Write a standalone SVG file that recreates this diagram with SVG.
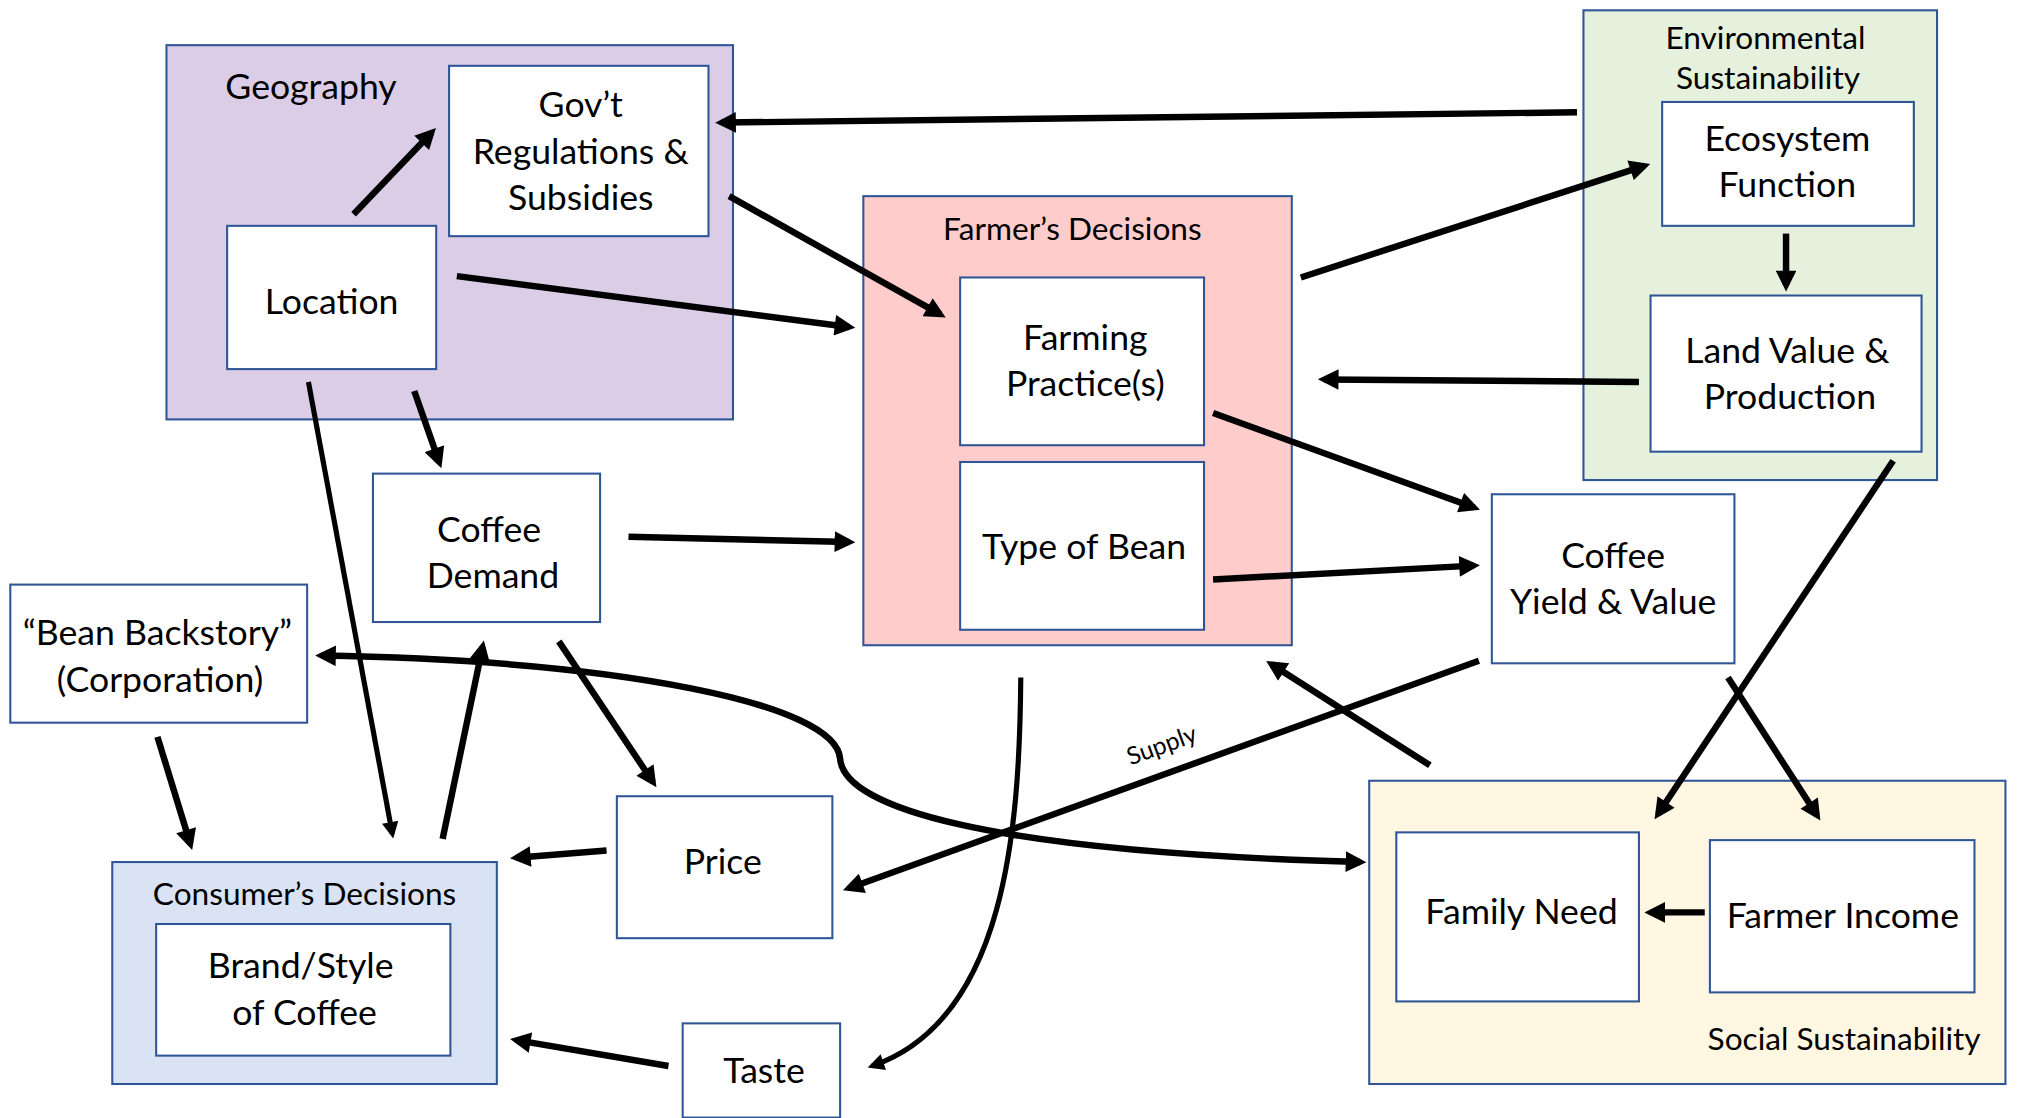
<svg xmlns="http://www.w3.org/2000/svg" width="2021" height="1118" viewBox="0 0 2021 1118">
<style>
.box{fill:#fff;stroke:#2F5597;stroke-width:1.6}
.grp{stroke:#2F5597;stroke-width:1.6}
.t{font-family:Lato,"Liberation Sans",sans-serif;font-size:27.6px;text-anchor:middle;fill:#000}
.s{font-family:Lato,"Liberation Sans",sans-serif;font-size:24.5px;text-anchor:middle;fill:#000}
.c{fill:none;stroke:#000;stroke-width:5;marker-end:url(#ah)}
.thin{stroke-width:4}
</style>
<defs>
<marker id="ah" viewBox="0 0 10 10" refX="7" refY="5" markerWidth="3.3" markerHeight="3.2" orient="auto-start-reverse" markerUnits="strokeWidth">
<path d="M0,0 L10,5 L0,10 z" fill="#000"/>
</marker>
</defs>
<rect width="2021" height="1118" fill="#fff"/>
<g transform="scale(1.2905)">
<g id="geography">
<rect class="grp" x="129" y="35" width="439" height="290" fill="#DCCDE6"/>
<text class="t" x="241" y="77">Geography</text>
</g>
<g id="govt">
<rect class="box" x="348" y="51" width="201" height="132"/>
<text class="t" x="450" y="91">Gov’t</text>
<text class="t" x="450" y="127">Regulations &amp;</text>
<text class="t" x="450" y="163">Subsidies</text>
</g>
<g id="location">
<rect class="box" x="176" y="175" width="162" height="111"/>
<text class="t" x="257" y="243">Location</text>
</g>
<g id="farmers-decisions">
<rect class="grp" x="669" y="152" width="332" height="348" fill="#FFCCCC"/>
<text class="s" x="831" y="186">Farmer’s Decisions</text>
</g>
<g id="farming-practice">
<rect class="box" x="744" y="215" width="189" height="130"/>
<text class="t" x="841" y="271">Farming</text>
<text class="t" x="841" y="307">Practice(s)</text>
</g>
<g id="type-of-bean">
<rect class="box" x="744" y="358" width="189" height="130"/>
<text class="t" x="840" y="433">Type of Bean</text>
</g>
<g id="environmental">
<rect class="grp" x="1227" y="8" width="274" height="364" fill="#E5F0DD"/>
<text class="s" x="1368" y="38">Environmental</text>
<text class="s" x="1370" y="69">Sustainability</text>
</g>
<g id="ecosystem">
<rect class="box" x="1288" y="79" width="195" height="96"/>
<text class="t" x="1385" y="117">Ecosystem</text>
<text class="t" x="1385" y="153">Function</text>
</g>
<g id="land-value">
<rect class="box" x="1279" y="229" width="210" height="121"/>
<text class="t" x="1385" y="281">Land Value &amp;</text>
<text class="t" x="1387" y="317">Production</text>
</g>
<g id="coffee-yield">
<rect class="box" x="1156" y="383" width="188" height="131"/>
<text class="t" x="1250" y="440">Coffee</text>
<text class="t" x="1250" y="476">Yield &amp; Value</text>
</g>
<g id="coffee-demand">
<rect class="box" x="289" y="367" width="176" height="115"/>
<text class="t" x="379" y="420">Coffee</text>
<text class="t" x="382" y="456">Demand</text>
</g>
<g id="bean-backstory">
<rect class="box" x="8" y="453" width="230" height="107"/>
<text class="t" x="122" y="500">“Bean Backstory”</text>
<text class="t" x="124" y="536">(Corporation)</text>
</g>
<g id="price">
<rect class="box" x="478" y="617" width="167" height="110"/>
<text class="t" x="560" y="677">Price</text>
</g>
<g id="taste">
<rect class="box" x="529" y="793" width="122" height="73"/>
<text class="t" x="592" y="839">Taste</text>
</g>
<g id="consumers-decisions">
<rect class="grp" x="87" y="668" width="298" height="172" fill="#DAE3F3"/>
<text class="s" x="236" y="701">Consumer’s Decisions</text>
</g>
<g id="brand-style">
<rect class="box" x="121" y="716" width="228" height="102"/>
<text class="t" x="233" y="758">Brand/Style</text>
<text class="t" x="236" y="794">of Coffee</text>
</g>
<g id="social">
<rect class="grp" x="1061" y="605" width="493" height="235" fill="#FFF7E1"/>
<text class="s" x="1429" y="814">Social Sustainability</text>
</g>
<g id="family-need">
<rect class="box" x="1082" y="645" width="188" height="131"/>
<text class="t" x="1179" y="716">Family Need</text>
</g>
<g id="farmer-income">
<rect class="box" x="1325" y="651" width="205" height="118"/>
<text class="t" x="1428" y="719">Farmer Income</text>
</g>
<g id="connectors">
<path class="c" d="M274,166 L334.5,102.6"/>
<path class="c" d="M1222,87 L559,95"/>
<path class="c" d="M565,152 L728.6,243.6"/>
<path class="c" d="M354,214 L658,253.4"/>
<path class="c" d="M1008,215 L1274.2,128.5"/>
<path class="c" d="M1384,181 L1384,221"/>
<path class="c" d="M1270,296 L1026,294"/>
<path class="c" d="M940,320 L1142.3,393.3"/>
<path class="c" d="M940,449 L1142,438.3"/>
<path class="c" d="M487,416 L658,420"/>
<path class="c" d="M321,303 L340.4,358.3"/>
<path class="c thin" d="M239,296 L304,646"/>
<path class="c" d="M343,650 L374,501"/>
<path class="c" d="M433,497 L506,606"/>
<path class="c" d="M122,571 L147.5,654"/>
<path class="c" d="M470,659 L400,664.6"/>
<path class="c" d="M518,826 L400,806"/>
<path class="c" d="M1146,512 L657.7,688.3"/>
<path class="c thin" d="M791,525 C790,640 780,790 676,826"/>
<path class="c" style="marker-start:url(#ah)" d="M249,508 C480,512 648,545 651,588 C654,625 760,660 1054,668"/>
<path class="c" d="M1339,525 L1408,631.8"/>
<path class="c" d="M1467,357 L1284.8,630.8"/>
<path class="c" d="M1108,593 L985.2,514.7"/>
<path class="c" d="M1321,707 L1279,707"/>
<text x="900" y="584" transform="rotate(-20 900 577)" style="font-family:Lato,'Liberation Sans',sans-serif;font-size:19px;text-anchor:middle">Supply</text>
</g>
</g>
</svg>
